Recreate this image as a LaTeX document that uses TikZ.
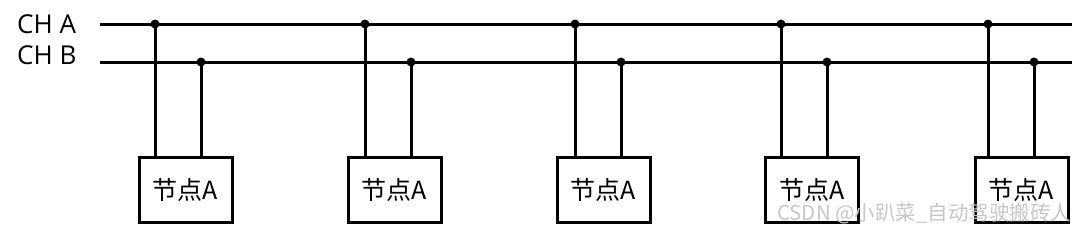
\documentclass[tikz,border=0pt]{standalone}
\usepackage{fontspec}
\setmainfont{Open Sans}
\newfontfamily\cjk{Noto Sans CJK SC}
\begin{document}
\begin{tikzpicture}[x=1pt,y=-1pt,
  wire/.style={line width=3pt, black},
  tap/.style={circle, fill=black, inner sep=0pt, minimum size=9pt},
  nodebox/.style={draw, line width=3pt, minimum width=93pt, minimum height=65pt, inner sep=0pt, font=\cjk\fontsize{25}{28}\selectfont},
  chlabel/.style={anchor=west, inner sep=0pt, font=\fontsize{26}{28}\selectfont},
  wm/.style={anchor=west, inner sep=0pt, text=black!22, font=\cjk\fontsize{20.5}{23}\selectfont}]
\useasboundingbox (0,0) rectangle (1080,231);
\node[chlabel] (la) at (17,24) {CH A};
\node[chlabel] (lb) at (17,55) {CH B};
\coordinate (Al) at (100,24);
\coordinate (Ar) at (1072,24);
\coordinate (Bl) at (100,62);
\coordinate (Br) at (1072,62);
\draw[wire] (Al) -- (Ar);
\draw[wire] (Bl) -- (Br);
\foreach \i/\bx/\xa/\xb in {1/185.5/155/201, 2/394.5/365/411, 3/603.5/575/621, 4/812/781/827, 5/1021.5/988/1034}{
  \node[nodebox] (n\i) at (\bx,189.5) {节点A};
  \node[tap] (a\i) at (\xa,24) {};
  \node[tap] (b\i) at (\xb,62) {};
  \draw[wire] (a\i.center) -- (a\i.center |- n\i.north);
  \draw[wire] (b\i.center) -- (b\i.center |- n\i.north);
}
\node[wm] (w) at (777,214) {CSDN @小趴菜\_自动驾驶搬砖人};
\end{tikzpicture}
\end{document}
